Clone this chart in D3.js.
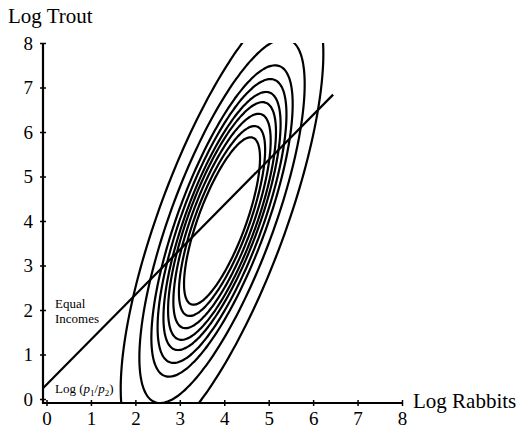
<!DOCTYPE html>
<html lang="en">
<head>
<meta charset="UTF-8">
<title>Log Trout vs Log Rabbits</title>
<script src="https://d3js.org/d3.v7.min.js"></script>
<style>
    body { margin: 0; background: #fff; }
    svg { display: block; }
    text { font-family: "Liberation Serif", "Times New Roman", serif; fill: #000; }
</style>
</head>
<body>
<svg id="chart" width="521" height="430"></svg>
<script>
// data
const xTicks = [0, 1, 2, 3, 4, 5, 6, 7, 8];
const yTicks = [0, 1, 2, 3, 4, 5, 6, 7, 8];
const ellipseCenter = [3.95, 4.0];
const ellipseShape = [1.0, 2.2, 0.75];          // x spread, y spread, correlation
const ellipseLevels = [0.855, 0.97, 1.095, 1.214, 1.318, 1.45, 1.59, 1.86, 2.28];
const incomeLine = [[-0.08, 0.24], [6.45, 6.84]];

const svg = d3.select("#chart");

const x = d3.scaleLinear().domain([0, 8]).range([46.5, 402]);
const y = d3.scaleLinear().domain([0, 8]).range([399, 43]);

const axisX = 43, axisY = 403;

// clip region for the curves (inside the axes)
svg.append("defs").append("clipPath").attr("id", "plot-clip")
    .append("rect")
    .attr("x", axisX).attr("y", y(8))
    .attr("width", x(8) - axisX).attr("height", axisY - y(8));

const line = d3.line().x(d => x(d[0])).y(d => y(d[1]));

// ellipse contours
const [sx, sy, rho] = ellipseShape;
const ts = d3.range(0, 360, 2).map(d => d * Math.PI / 180);
const ellipses = ellipseLevels.map(s => ts.map(t => [
    ellipseCenter[0] + s * sx * Math.cos(t),
    ellipseCenter[1] + s * sy * (rho * Math.cos(t) + Math.sqrt(1 - rho * rho) * Math.sin(t))
]));

const plot = svg.append("g").attr("clip-path", "url(#plot-clip)");
plot.selectAll("path.ell")
    .data(ellipses)
    .enter().append("path")
    .attr("class", "ell")
    .attr("d", d => line.curve(d3.curveCardinalClosed)(d))
    .attr("fill", "none")
    .attr("stroke", "#000")
    .attr("stroke-width", 2.2);

// equal incomes line
svg.append("path")
    .attr("d", line.curve(d3.curveLinear)(incomeLine))
    .attr("fill", "none")
    .attr("stroke", "#000")
    .attr("stroke-width", 2.2);

// axes lines
svg.append("path")
    .attr("d", `M${axisX},${y(8)}V${axisY}H${x(8)}`)
    .attr("fill", "none")
    .attr("stroke", "#000")
    .attr("stroke-width", 2.2);

// x ticks
const gx = svg.append("g")
    .attr("transform", `translate(0,${axisY})`)
    .call(d3.axisBottom(x).tickValues(xTicks).tickSize(3).tickSizeOuter(0).tickPadding(6));
gx.select(".domain").remove();
gx.selectAll(".tick line").attr("y1", -3).attr("y2", 3).attr("stroke-width", 1.5);
gx.selectAll(".tick text")
    .style("font-family", "'Liberation Serif', serif")
    .style("font-size", "19px");

// y ticks
const gy = svg.append("g")
    .attr("transform", `translate(${axisX},0)`)
    .call(d3.axisLeft(y).tickValues(yTicks).tickSize(3).tickSizeOuter(0).tickPadding(7));
gy.select(".domain").remove();
gy.selectAll(".tick line").attr("x1", -3).attr("x2", 3).attr("stroke-width", 1.5);
gy.selectAll(".tick text")
    .style("font-family", "'Liberation Serif', serif")
    .style("font-size", "19px");

// labels
svg.append("text").attr("x", 8).attr("y", 23)
    .style("font-size", "21px").text("Log Trout");
svg.append("text").attr("x", 413).attr("y", 408)
    .style("font-size", "21px").text("Log Rabbits");

const eq = svg.append("text").style("font-size", "13px");
eq.append("tspan").attr("x", 55).attr("y", 308).text("Equal");
eq.append("tspan").attr("x", 55).attr("y", 323).text("Incomes");

const lp = svg.append("text").attr("x", 55).attr("y", 393).style("font-size", "13px");
lp.append("tspan").text("Log (");
lp.append("tspan").style("font-style", "italic").text("p");
lp.append("tspan").attr("dy", 3).style("font-size", "9px").text("1");
lp.append("tspan").attr("dy", -3).text("/");
lp.append("tspan").style("font-style", "italic").text("p");
lp.append("tspan").attr("dy", 3).style("font-size", "9px").text("2");
lp.append("tspan").attr("dy", -3).text(")");
</script>
</body>
</html>
